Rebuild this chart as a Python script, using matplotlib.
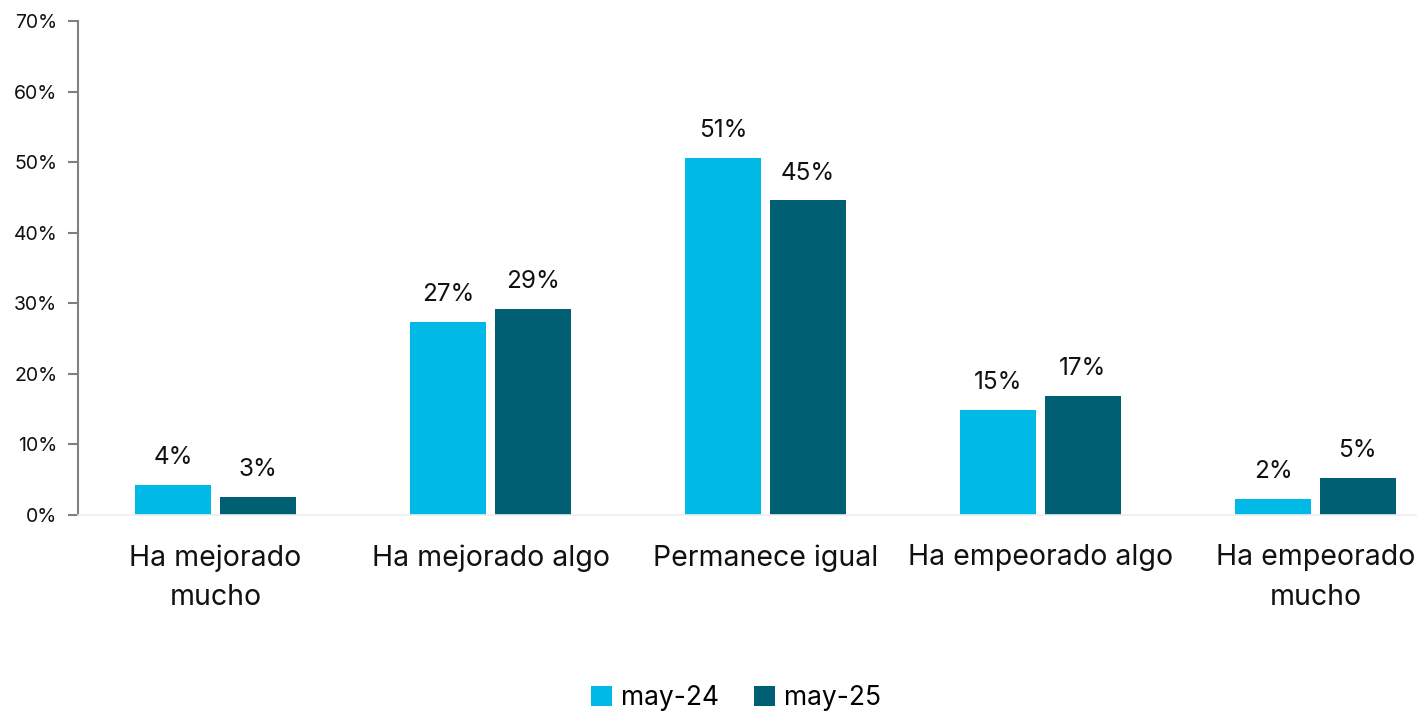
import matplotlib.pyplot as plt
import numpy as np

plt.rcParams['font.family'] = ['Inter', 'DejaVu Sans']

categories = ['Ha mejorado\nmucho', 'Ha mejorado algo', 'Permanece igual',
              'Ha empeorado algo', 'Ha empeorado\nmucho']
may24 = [4.25, 27.35, 50.6, 14.9, 2.27]
may25 = [2.55, 29.2, 44.6, 16.9, 5.24]
series_names = ['may-24', 'may-25']
yticks = [0, 10, 20, 30, 40, 50, 60, 70]

c24 = '#00B9E6'
c25 = '#005F73'

fig = plt.figure(figsize=(14.17, 7.14), dpi=100)
ax = fig.add_axes([78/1417, 199/714, 1339/1417, 494/714])

x = np.arange(len(categories))
w = 0.276
off = 0.153
b1 = ax.bar(x - off, may24, w, color=c24, label=series_names[0])
b2 = ax.bar(x + off, may25, w, color=c25, label=series_names[1])

for bars, vals in ((b1, may24), (b2, may25)):
    for b, v in zip(bars, vals):
        ax.text(b.get_x() + b.get_width()/2, v + 2.2, f'{round(v):.0f}%',
                ha='center', va='bottom', fontsize=17.5, color='#111111')

ax.set_xlim(-0.5, -0.5 + 1339/275)
ax.set_ylim(0, 70)
ax.set_yticks(yticks)
ax.set_yticklabels([f'{t}%' for t in yticks], fontsize=14, color='#111111')
ax.set_xticks(x)
ax.set_xticklabels(categories, fontsize=20.5, color='#111111', linespacing=1.6)
ax.tick_params(axis='x', length=0, pad=21)
ax.tick_params(axis='y', length=7, width=1.5, color='#808080', pad=8)

for s in ['top', 'right']:
    ax.spines[s].set_visible(False)
ax.spines['left'].set_color('#808080')
ax.spines['left'].set_linewidth(1.5)
ax.spines['bottom'].set_color('#EEEEEE')
ax.spines['bottom'].set_linewidth(1.2)

fig.legend(loc='center', bbox_to_anchor=(736/1417, 1 - 698/714), ncol=2,
           frameon=False, fontsize=19, handlelength=0.8, handleheight=0.8,
           handletextpad=0.35, columnspacing=1.3)

fig.savefig('out.png', dpi=100)
